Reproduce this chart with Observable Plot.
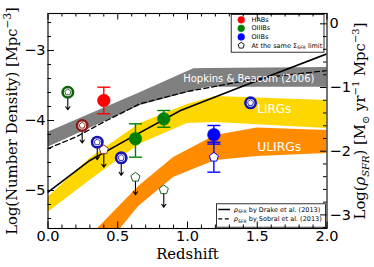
<!DOCTYPE html>
<html><head><meta charset="utf-8">
<script src="https://cdn.jsdelivr.net/npm/d3@7"></script>
<script src="https://cdn.jsdelivr.net/npm/@observablehq/plot@0.6"></script>
<style>html,body{margin:0;padding:0;background:#fff} #chart svg{display:block}</style>
</head><body><div id="chart"></div>
<script>
// ---------------- data (y in log number density units) ----------------
const gbZ   = [0, 0.663, 1.045, 1.14, 2.0];                 // Hopkins & Beacom (2006) band
const gbTop = [-4.167, -3.600, -3.261, -3.257, -3.243];
const gbBot = [-4.381, -3.786, -3.577, -3.524, -3.524];

const lirgZ   = [0, 0.3, 0.66, 1.0, 1.2, 2.0];              // LIRGs band
const lirgTop = [-5.100, -4.543, -4.043, -3.771, -3.657, -3.714];
const lirgBot = [-5.314, -4.857, -4.336, -4.043, -4.029, -4.114];

const ulirgZ   = [0.3, 0.35, 0.5, 0.65, 0.9, 1.2, 1.5, 2.0]; // ULIRGs band
const ulirgTop = [-5.714, -5.557, -5.250, -4.943, -4.527, -4.214, -4.107, -4.143];
const ulirgBot = [-6.170, -6.000, -5.594, -5.229, -4.813, -4.571, -4.514, -4.471];

const drakeZ   = [0, 0.3, 0.6, 0.95, 1.4, 2.0];            // rho_SFR by Drake et al. (2013)
const drakeLog = [-5.024, -4.571, -4.237, -3.857, -3.507, -3.047];
const sobralZ   = [0, 0.2, 0.4, 0.66, 1.0, 1.5, 2.0];      // rho_SFR by Sobral et al. (2013)
const sobralLog = [-4.400, -4.236, -4.021, -3.761, -3.586, -3.400, -3.286];

// detections (filled circles with error bars)
const detZ    = [0.40, 0.627, 0.83, 1.189];
const detLog  = [-3.714, -4.261, -3.976, -4.204];
const detUp   = [0.19, 0.214, 0.119, 0.133];
const detDn   = [0.19, 0.263, 0.120, 0.133];
const detLine = ["HA", "OIII", "OIII", "OII"];

// open rings (with inner pentagon)
const ringZ     = [0.142, 0.245, 0.353, 0.525, 1.452];
const ringLog   = [-3.596, -4.071, -4.310, -4.533, -3.747];
const ringLine  = ["OIII", "HA", "OII", "OII", "OII"];
const ringLimit = [true, true, true, true, false];

// pentagons: at the same Sigma_SFR limit
const pentZ     = [0.40, 0.627, 0.83, 1.189];
const pentLog   = [-4.418, -4.810, -4.990, -4.524];
const pentLine  = ["HA", "OIII", "OIII", "OII"];
const pentErr   = [null, null, null, 0.214];
const pentLimit = [true, true, true, false];

// ticks
const xMajor = [0, 0.5, 1.0, 1.5, 2.0];
const xMinor = d3.range(0, 21).filter(i => i % 5 !== 0).map(i => i / 10);
const yMajor = [-5, -4, -3];
const yMinor = d3.range(-27, -12).filter(i => i % 5 !== 0).map(i => i / 5);
const rMajor = [0, -1, -2, -3];
const rMinor = d3.range(-16, 1).filter(i => i % 5 !== 0).map(i => i / 5);

const legendLabels = ["HABs", "OIIIBs", "OIIBs", "At the same ΣSFR limit"];
const lineLegendLabels = ["ρSFR by Drake et al. (2013)", "ρSFR by Sobral et al. (2013)"];

// ---------------- layout / styles ----------------
const W = 374, H = 267, mL = 47.5, mR = 47.5, mT = 13, mB = 39;
const innerW = W - mL - mR, innerH = H - mT - mB;
const yDomain = [-5.543, -2.471];
const RA = -2.6186, RB = 0.91;
const toL = r => RA + RB * r;
const arrowLen = 0.25;

const fillC = {HA: "#ff0000", OIII: "#008000", OII: "#0000ff"};
const ringC = {HA: "#8b1a1a", OIII: "#0f5f0f", OII: "#1414b0"};
const pentC = {HA: "#8b2c2c", OIII: "#1f5f1f", OII: "#0000ff"};

const pentagon = {draw(ctx, size) {
  const r = Math.sqrt(size / Math.PI);
  for (let i = 0; i < 5; i++) {
    const a = -Math.PI / 2 + i * 2 * Math.PI / 5;
    const px = r * Math.cos(a), py = r * Math.sin(a);
    if (i) ctx.lineTo(px, py); else ctx.moveTo(px, py);
  }
  ctx.closePath();
}};
const cap = {draw(ctx, size) {
  const r = Math.sqrt(size / Math.PI);
  ctx.moveTo(-r, 0); ctx.lineTo(r, 0);
}};

// ---------------- tables ----------------
const gray  = gbZ.map((z, i) => ({z, top: gbTop[i], bot: gbBot[i]}));
const lirg  = lirgZ.map((z, i) => ({z, top: lirgTop[i], bot: lirgBot[i]}));
const ulirg = ulirgZ.map((z, i) => ({z, top: ulirgTop[i], bot: ulirgBot[i]}));
const drake = drakeZ.map((z, i) => ({z, v: drakeLog[i]}));
const sobral = sobralZ.map((z, i) => ({z, v: sobralLog[i]}));
const det = detZ.map((z, i) => ({z, v: detLog[i], up: detUp[i], dn: detDn[i], line: detLine[i]}));
const rings = ringZ.map((z, i) => ({z, v: ringLog[i], line: ringLine[i], lim: ringLimit[i]}));
const pents = pentZ.map((z, i) => ({z, v: pentLog[i], line: pentLine[i], err: pentErr[i], lim: pentLimit[i]}));
const limits = [...rings.filter(d => d.lim), ...pents.filter(d => d.lim)];
const pentE = pents.filter(d => d.err != null);

const fa = {x: null, y: null, frameAnchor: "top-left"};
const legendMarks = legendLabels.flatMap((lab, i) => [
  Plot.dot([lab], {...fa, dx: 193.2, dy: 6.3 + i * 8.57, r: i < 3 ? 3.4 : 3.2,
    symbol: i < 3 ? "circle" : pentagon,
    fill: i < 3 ? [fillC.HA, fillC.OIII, fillC.OII][i] : "white",
    stroke: i < 3 ? [fillC.HA, fillC.OIII, fillC.OII][i] : "black", strokeWidth: i < 3 ? 0.5 : 0.9}),
  Plot.text([lab], {...fa, dx: 203.5, dy: 6.3 + i * 8.57, text: d => d, textAnchor: "start",
    lineAnchor: "middle", fontSize: 6.5, fontFamily: "DejaVu Sans", fill: "black"})
]);
const lineLegendMarks = lineLegendLabels.flatMap((lab, i) => [
  Plot.ruleY([lab], {y: null, insetLeft: 170.8, insetRight: 96.5, dy: 88.5 + i * 9.3,
    stroke: "black", strokeWidth: i ? 1.3 : 1.5, strokeDasharray: i ? "4,2.5" : null}),
  Plot.text([lab], {...fa, dx: 185.8, dy: 196 + i * 9.3, text: d => d, textAnchor: "start",
    lineAnchor: "middle", fontSize: 6.5, fontFamily: "DejaVu Sans", fill: "black"})
]);

const sans = "DejaVu Sans", serif = "DejaVu Serif";
const fmtY = v => (v < 0 ? "\u2212" : "") + Math.abs(v);

const plot = Plot.plot({
  width: W, height: H, marginLeft: mL, marginRight: mR, marginTop: mT, marginBottom: mB,
  x: {domain: [0, 2], axis: null},
  y: {domain: yDomain, axis: null},
  color: {type: "identity"},
  style: {background: "white", overflow: "visible"},
  marks: [
    // bands
    Plot.areaY(gray,  {x: "z", y1: "bot", y2: "top", fill: "#808080", clip: true}),
    Plot.areaY(lirg,  {x: "z", y1: "bot", y2: "top", fill: "#ffd700", clip: true}),
    Plot.areaY(ulirg, {x: "z", y1: "bot", y2: "top", fill: "#ff8c00", clip: true}),
    // SFRD lines
    Plot.line(sobral, {x: "z", y: "v", stroke: "black", strokeWidth: 1.3, strokeDasharray: "5,3", clip: true}),
    Plot.line(drake,  {x: "z", y: "v", stroke: "black", strokeWidth: 1.6, clip: true}),
    // band labels
    Plot.text(["Hopkins & Beacom (2006)"], {...fa, dx: 200.8, dy: 65.3, text: d => d, textAnchor: "middle",
      lineAnchor: "middle", fontSize: 10, fontFamily: sans, fill: "white"}),
    Plot.text(["LIRGs"], {...fa, dx: 209.2, dy: 95.3, text: d => d, textAnchor: "start",
      lineAnchor: "middle", fontSize: 12, fontFamily: sans, fill: "white"}),
    Plot.text(["ULIRGs"], {...fa, dx: 209.2, dy: 133.7, text: d => d, textAnchor: "start",
      lineAnchor: "middle", fontSize: 12.3, fontFamily: sans, fill: "white"}),
    // upper-limit arrows
    Plot.arrow(limits, {x1: "z", y1: "v", x2: "z", y2: d => d.v - arrowLen, stroke: "black",
      strokeWidth: 1.1, headLength: 5, headAngle: 70}),
    // error bars
    Plot.ruleX(pentE, {x: "z", y1: d => d.v - d.err, y2: d => d.v + d.err, stroke: d => pentC[d.line], strokeWidth: 1.4}),
    Plot.dot(pentE, {x: "z", y: d => d.v + d.err, symbol: cap, r: 6.5, fill: "none", stroke: d => pentC[d.line], strokeWidth: 1.4}),
    Plot.dot(pentE, {x: "z", y: d => d.v - d.err, symbol: cap, r: 6.5, fill: "none", stroke: d => pentC[d.line], strokeWidth: 1.4}),
    Plot.ruleX(det, {x: "z", y1: d => d.v - d.dn, y2: d => d.v + d.up, stroke: d => fillC[d.line], strokeWidth: 1.4}),
    Plot.dot(det, {x: "z", y: d => d.v + d.up, symbol: cap, r: 6.5, fill: "none", stroke: d => fillC[d.line], strokeWidth: 1.4}),
    Plot.dot(det, {x: "z", y: d => d.v - d.dn, symbol: cap, r: 6.5, fill: "none", stroke: d => fillC[d.line], strokeWidth: 1.4}),
    // detections
    Plot.dot(det, {x: "z", y: "v", r: 6.3, fill: d => fillC[d.line], stroke: d => fillC[d.line], strokeWidth: 0.6}),
    // rings
    Plot.dot(rings, {x: "z", y: "v", r: 5.2, fill: "white", stroke: d => ringC[d.line], strokeWidth: 2.6}),
    Plot.dot(rings, {x: "z", y: "v", r: 3.2, symbol: pentagon, fill: "white", stroke: d => ringC[d.line], strokeWidth: 0.9}),
    // pentagons
    Plot.dot(pents, {x: "z", y: "v", r: 4.8, symbol: pentagon, fill: "white", stroke: d => pentC[d.line], strokeWidth: 1}),
    // legends
    Plot.frame({insetLeft: 183.2, insetTop: 1, insetRight: 3, insetBottom: 176.3, fill: "white", stroke: "black", strokeWidth: 0.8}),
    ...legendMarks,
    Plot.frame({insetLeft: 168.5, insetTop: 190.3, insetRight: 1.5, insetBottom: 1.3, fill: "white", stroke: "black", strokeWidth: 0.8}),
    ...lineLegendMarks,
    // frame
    Plot.frame({stroke: "black", strokeWidth: 1.1}),
    // ticks (inward, all four sides)
    Plot.tickX(xMajor, {x: d => d, insetTop: innerH - 6.5, stroke: "black"}),
    Plot.tickX(xMinor, {x: d => d, insetTop: innerH - 3.5, stroke: "black"}),
    Plot.tickX(xMajor, {x: d => d, insetBottom: innerH - 6.5, stroke: "black"}),
    Plot.tickX(xMinor, {x: d => d, insetBottom: innerH - 3.5, stroke: "black"}),
    Plot.tickY(yMajor, {y: d => d, insetRight: innerW - 6.5, stroke: "black"}),
    Plot.tickY(yMinor, {y: d => d, insetRight: innerW - 3.5, stroke: "black"}),
    Plot.tickY(rMajor, {y: toL, insetLeft: innerW - 6.5, stroke: "black"}),
    Plot.tickY(rMinor, {y: toL, insetLeft: innerW - 3.5, stroke: "black"}),
    // tick labels
    Plot.text(xMajor, {x: d => d, frameAnchor: "bottom", dy: 8, text: d => d.toFixed(1),
      lineAnchor: "middle", fontSize: 14.5, fontFamily: sans, fill: "black"}),
    Plot.text(yMajor, {y: d => d, frameAnchor: "left", dx: -2.5, text: fmtY, textAnchor: "end",
      lineAnchor: "middle", fontSize: 14.5, fontFamily: sans, fill: "black"}),
    Plot.text(rMajor, {y: toL, frameAnchor: "right", dx: 2.5, text: fmtY, textAnchor: "start",
      lineAnchor: "middle", fontSize: 14.5, fontFamily: sans, fill: "black"}),
    // axis titles
    Plot.text(["Redshift"], {x: null, y: null, frameAnchor: "bottom", dy: 26, text: d => d,
      textAnchor: "middle", lineAnchor: "middle", fontSize: 14.8, fontFamily: serif, fill: "black"}),
    Plot.text(["Log(Number Density) [Mpc−3]"], {x: null, y: null, frameAnchor: "left", dx: -36, rotate: -90,
      text: d => d, textAnchor: "middle", lineAnchor: "middle", fontSize: 14.8, fontFamily: serif, fill: "black"}),
    Plot.text(["Log(ρSFR) [M⊙ yr−1 Mpc−3]"], {x: null, y: null, frameAnchor: "right", dx: 33.5, rotate: -90,
      text: d => d, textAnchor: "middle", lineAnchor: "middle", fontSize: 14.8, fontFamily: serif, fill: "black"})
  ]
});

// rich text (sub/superscripts)
const rich = {
  "At the same ΣSFR limit": `At the same Σ<tspan font-size="4.6" dy="1.8" font-style="italic">SFR</tspan><tspan dy="-1.8"> limit</tspan>`,
  "ρSFR by Drake et al. (2013)": `<tspan font-style="italic">ρ</tspan><tspan font-size="4.6" dy="1.8" font-style="italic">SFR</tspan><tspan dy="-1.8"> by Drake et al. (2013)</tspan>`,
  "ρSFR by Sobral et al. (2013)": `<tspan font-style="italic">ρ</tspan><tspan font-size="4.6" dy="1.8" font-style="italic">SFR</tspan><tspan dy="-1.8"> by Sobral et al. (2013)</tspan>`,
  "Log(Number Density) [Mpc−3]": `Log(Number Density) [Mpc<tspan font-size="10.5" dy="-6">−3</tspan><tspan dy="6">]</tspan>`,
  "Log(ρSFR) [M⊙ yr−1 Mpc−3]": `Log(<tspan font-style="italic">ρ</tspan><tspan font-style="italic" font-size="10" dy="4">SFR</tspan><tspan dy="-4">) [M</tspan><tspan font-size="10" dy="4">⊙</tspan><tspan dy="-4"> yr</tspan><tspan font-size="10" dy="-6">−1</tspan><tspan dy="6"> Mpc</tspan><tspan font-size="10" dy="-6">−3</tspan><tspan dy="6">]</tspan>`
};
d3.select(plot).selectAll("text").each(function() {
  const t = this.textContent;
  if (rich[t]) this.innerHTML = rich[t];
});
document.getElementById("chart").appendChild(plot);
</script>
</body></html>
